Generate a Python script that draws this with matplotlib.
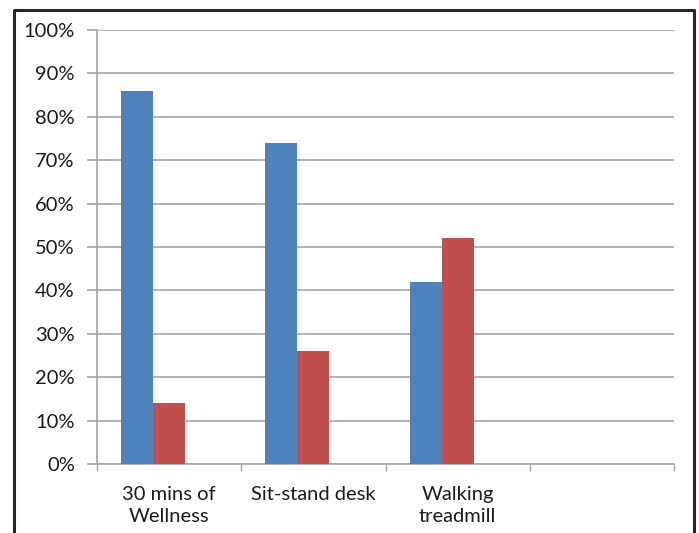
import matplotlib
matplotlib.use('Agg')
import matplotlib.pyplot as plt
from matplotlib.lines import Line2D
from matplotlib.ticker import FixedLocator, PercentFormatter
import numpy as np

categories = ['30 mins of\nWellness', 'Sit-stand desk', 'Walking\ntreadmill', '']
series_blue = [86, 74, 42, None]
series_red = [14, 26, 52, None]

BLUE = '#4F81BD'
RED = '#C0504D'
GRID = '#A6A6A6'

plt.rcParams['font.family'] = ['Lato', 'DejaVu Sans']

fig = plt.figure(figsize=(6.99, 5.33), dpi=100)
ax = fig.add_axes([97 / 699, 69 / 533, 577 / 699, 434 / 533])

# Excel-style clustering: three bar slots per category, 150% gap width
width = 1 / 4.5
x = np.arange(len(categories)) + 0.5
blue_x = [xi - width for xi, v in zip(x, series_blue) if v is not None]
blue_v = [v for v in series_blue if v is not None]
red_x = [xi for xi, v in zip(x, series_red) if v is not None]
red_v = [v for v in series_red if v is not None]

ax.bar(blue_x, blue_v, width, color=BLUE, zorder=3)
ax.bar(red_x, red_v, width, color=RED, zorder=3)

ax.set_xlim(0, len(categories))
ax.set_ylim(0, 100)

ax.set_yticks(np.arange(0, 101, 10))
ax.yaxis.set_major_formatter(PercentFormatter(decimals=0))
ax.grid(axis='y', color=GRID, linewidth=1.2, zorder=0)

ax.set_xticks(x)
ax.set_xticklabels(categories, linespacing=1.35)
ax.xaxis.set_minor_locator(FixedLocator(np.arange(len(categories) + 1)))
ax.tick_params(axis='x', which='major', length=0, pad=16, labelsize=14.5, colors='#1a1a1a')
ax.tick_params(axis='x', which='minor', length=5, width=1, color=GRID, direction='out')
ax.tick_params(axis='y', length=7, width=1.2, color=GRID, pad=9, labelsize=14.5, labelcolor='#1a1a1a')

for side in ['top', 'right']:
    ax.spines[side].set_visible(False)
for side in ['left', 'bottom']:
    ax.spines[side].set_color(GRID)
    ax.spines[side].set_linewidth(1.2)

# frame around the chart area (open at the bottom)
fx = [14 / 699, 14 / 699, 694 / 699, 694 / 699]
fy = [0, 1 - 10 / 533, 1 - 10 / 533, 0]
fig.add_artist(Line2D(fx, fy, transform=fig.transFigure, color='#262626', linewidth=2.2))

fig.savefig('out.png', dpi=100)
